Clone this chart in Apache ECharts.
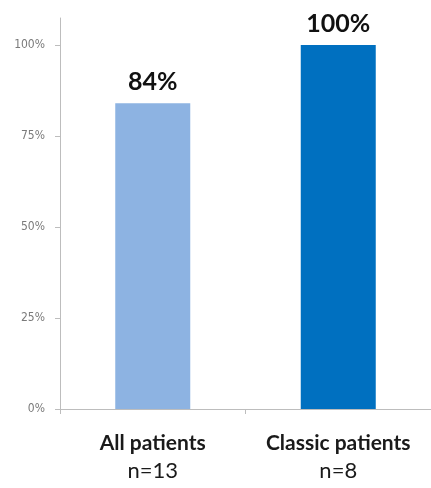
<!DOCTYPE html>
<html>
<head>
<meta charset="utf-8">
<script src="https://cdn.jsdelivr.net/npm/echarts@6/dist/echarts.min.js"></script>
<style>
  html, body { margin: 0; padding: 0; background: #fff; }
  #chart { width: 431px; height: 488px; }
</style>
</head>
<body>
<div id="chart"></div>
<script>
// Response rate by patient group
const groups = ['All patients', 'Classic patients'];
const groupSizes = [13, 8];
const responseRates = [84, 100];
const barColors = ['#8DB3E2', '#0070C0'];
const yTicks = [0, 25, 50, 75, 100];

const chart = echarts.init(document.getElementById('chart'));

const axisGray = '#BDBDBD';

chart.setOption({
  animation: false,
  grid: { left: 60, right: -6, top: 18, bottom: 79 },
  xAxis: {
    type: 'category',
    data: groups,
    axisLine: { lineStyle: { color: axisGray, width: 1 } },
    axisTick: { show: true, alignWithLabel: false, length: 5, lineStyle: { color: axisGray } },
    axisLabel: {
      margin: 21,
      interval: 0,
      formatter: function (value, idx) {
        return '{a|' + value + '}\n{b|n=' + groupSizes[idx] + '}';
      },
      rich: {
        a: { fontFamily: 'Lato', fontWeight: 'bold', fontSize: 21, color: '#1a1a1a', lineHeight: 26 },
        b: { fontFamily: 'Lato', fontSize: 22, color: '#1a1a1a', lineHeight: 30 }
      }
    }
  },
  yAxis: {
    type: 'value',
    min: 0,
    max: 107.4,
    interval: 25,
    splitLine: { show: false },
    axisLine: { show: true, lineStyle: { color: axisGray, width: 1 } },
    axisTick: { show: true, length: 5, customValues: yTicks, lineStyle: { color: axisGray } },
    axisLabel: {
      customValues: yTicks,
      margin: 15,
      fontFamily: 'DejaVu Sans Condensed, Verdana, sans-serif',
      fontSize: 12,
      color: '#7a7a7a',
      formatter: function (v) { return v + '%'; }
    }
  },
  series: [{
    type: 'bar',
    barWidth: 75,
    data: responseRates.map(function (v, i) {
      return { value: v, itemStyle: { color: barColors[i] } };
    }),
    label: {
      show: true,
      position: 'top',
      distance: 9,
      fontFamily: 'Lato',
      fontWeight: 'bold',
      fontSize: 25,
      color: '#111',
      formatter: function (p) { return p.value + '%'; }
    }
  }]
});
</script>
</body>
</html>
